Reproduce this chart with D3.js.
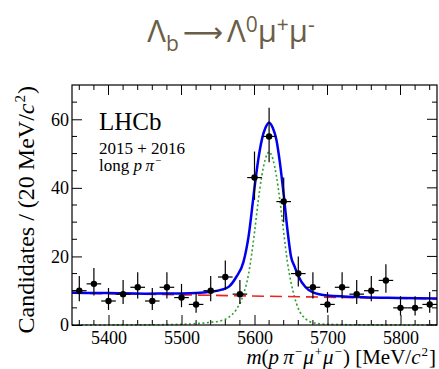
<!DOCTYPE html>
<html>
<head>
<meta charset="utf-8">
<script src="https://cdn.jsdelivr.net/npm/d3@7"></script>
<style>
  body { margin: 0; background: #fff; }
  svg text { font-family: "Liberation Serif", "Times New Roman", serif; }
</style>
</head>
<body>
<div id="chart"></div>
<script>
// binned data, 20 MeV bins
const binCentres = [5360, 5380, 5400, 5420, 5440, 5460, 5480, 5500, 5520, 5540, 5560, 5580, 5600,
                    5620, 5640, 5660, 5680, 5700, 5720, 5740, 5760, 5780, 5800, 5820, 5840];
const counts     = [10, 12, 7, 9, 11, 7, 11, 8, 6, 10, 14, 9, 43, 55, 36, 15, 11, 6, 11, 9, 10, 13, 5, 5, 6];
const errLow     = [6.9, 8.6, 4.4, 6.1, 7.7, 4.4, 7.7, 5.2, 3.6, 6.9, 10.3, 6.1, 36.5, 47.5, 30.0, 11.2,
                    7.7, 3.6, 7.7, 6.1, 6.9, 9.4, 2.8, 2.8, 3.6];
const errHigh    = [14.3, 16.6, 10.8, 13.1, 15.4, 10.8, 15.4, 12.0, 9.6, 14.3, 18.8, 13.1, 50.6, 63.4, 43.0, 20.0,
                    15.4, 9.6, 15.4, 13.1, 14.3, 17.7, 8.4, 8.4, 9.6];
const binHalf = 10;

// fit curves
const fitMass   = [5350, 5400, 5450, 5500, 5520, 5540, 5555, 5565, 5575, 5585, 5592, 5600, 5605, 5610, 5615,
                   5620, 5625, 5630, 5635, 5640, 5645, 5650, 5655, 5660, 5670, 5680, 5700, 5750, 5800, 5850];
const fitTotal  = [9.4, 9.3, 9.15, 9.2, 9.3, 9.7, 10.3, 11.2, 14.0, 18.5, 26, 40, 48, 54, 57.5,
                   59, 57.5, 54, 47, 38, 28, 20, 17, 14.3, 11, 9.5, 8.6, 8.1, 7.9, 7.7];
const fitSignal = [0, 0.02, 0.05, 0.2, 0.4, 0.8, 1.3, 2.3, 4.5, 9, 15, 27, 36, 43.5, 48.5,
                   50.5, 48.5, 43.5, 36, 27, 18.5, 12.5, 8, 4.8, 1.8, 0.7, 0.2, 0.05, 0.02, 0];
const bkgMass   = [5350, 5850];
const bkgValue  = [9.3, 7.6];

const xMajor = [5400, 5500, 5600, 5700, 5800];
const yMajor = [0, 20, 40, 60];

const width = 439, height = 369;
const margin = {top: 85, right: 2, bottom: 44, left: 72};

const svg = d3.select("#chart").append("svg")
    .attr("width", width)
    .attr("height", height);

const x = d3.scaleLinear().domain([5350, 5850]).range([margin.left, width - margin.right]);
const y = d3.scaleLinear().domain([0, 70]).range([height - margin.bottom, margin.top]);

// title
const title = svg.append("text")
    .attr("x", 231)
    .attr("y", 42)
    .attr("text-anchor", "middle")
    .style("font-family", "'Open Sans', sans-serif")
    .style("font-size", "31px")
    .attr("fill", "#6b5e48");
title.append("tspan").text("Λ");
title.append("tspan").attr("dy", 9).style("font-size", "21px").text("b");
title.append("tspan").attr("dy", -9).attr("dx", 4).style("font-family", "'DejaVu Sans', sans-serif").style("font-size", "28px").text("⟶");
title.append("tspan").attr("dx", 4).text("Λ");
title.append("tspan").attr("dy", -10).style("font-size", "21px").text("0");
title.append("tspan").attr("dy", 10).text("μ");
title.append("tspan").attr("dy", -10).style("font-size", "21px").text("+");
title.append("tspan").attr("dy", 10).text("μ");
title.append("tspan").attr("dy", -10).style("font-size", "21px").text("-");

// curves
const lineOf = (xs, ys) => d3.line()
    .x((d, i) => x(xs[i]))
    .y(d => y(d))
    .curve(d3.curveMonotoneX)(ys);

const plot = svg.append("g");
plot.append("path")
    .attr("d", lineOf(fitMass, fitSignal))
    .attr("fill", "none")
    .attr("stroke", "#2ca02c")
    .attr("stroke-width", 1.6)
    .attr("stroke-dasharray", "2,2.5");

plot.append("path")
    .attr("d", lineOf(bkgMass, bkgValue))
    .attr("fill", "none")
    .attr("stroke", "#ee2222")
    .attr("stroke-width", 1.6)
    .attr("stroke-dasharray", "12,6");

plot.append("path")
    .attr("d", lineOf(fitMass, fitTotal))
    .attr("fill", "none")
    .attr("stroke", "#0000ee")
    .attr("stroke-width", 2.5);

// data points
const pts = plot.selectAll(".pt")
    .data(counts)
    .enter().append("g")
    .attr("class", "pt");
pts.append("line")
    .attr("x1", (d, i) => x(binCentres[i] - binHalf))
    .attr("x2", (d, i) => x(binCentres[i] + binHalf))
    .attr("y1", d => y(d))
    .attr("y2", d => y(d))
    .attr("stroke", "#000")
    .attr("stroke-width", 1.2);
pts.append("line")
    .attr("x1", (d, i) => x(binCentres[i]))
    .attr("x2", (d, i) => x(binCentres[i]))
    .attr("y1", (d, i) => y(errLow[i]))
    .attr("y2", (d, i) => y(errHigh[i]))
    .attr("stroke", "#000")
    .attr("stroke-width", 1.2);
pts.append("circle")
    .attr("cx", (d, i) => x(binCentres[i]))
    .attr("cy", d => y(d))
    .attr("r", 3.2)
    .attr("fill", "#000");

// axes, ticks pointing inwards on all four sides
const xMinor = d3.range(5360, 5850, 20).filter(v => v % 100 !== 0);
const yMinor = d3.range(5, 70, 5).filter(v => v % 20 !== 0);
const plotB = height - margin.bottom, plotT = margin.top;
const plotL = margin.left, plotR = width - margin.right;

const xAxis = svg.append("g")
    .attr("transform", "translate(0," + plotB + ")")
    .call(d3.axisBottom(x).tickValues(xMajor).tickSizeInner(-10).tickSizeOuter(0).tickPadding(6).tickFormat(d3.format("d")));
xAxis.selectAll("text").style("font-family", "'Liberation Serif', serif").style("font-size", "18px").attr("fill", "#000");

const yAxis = svg.append("g")
    .attr("transform", "translate(" + plotL + ",0)")
    .call(d3.axisLeft(y).tickValues(yMajor).tickSizeInner(-10).tickSizeOuter(0).tickPadding(3));
yAxis.selectAll("text").style("font-family", "'Liberation Serif', serif").style("font-size", "18px").attr("fill", "#000");
svg.selectAll(".domain").remove();

const ticks = svg.append("g").attr("stroke", "#000").attr("stroke-width", 1);
ticks.selectAll(".xt").data(xMinor).enter().append("line")
    .attr("x1", d => x(d)).attr("x2", d => x(d)).attr("y1", plotB).attr("y2", plotB - 5);
ticks.selectAll(".xtt").data(xMinor).enter().append("line")
    .attr("x1", d => x(d)).attr("x2", d => x(d)).attr("y1", plotT).attr("y2", plotT + 5);
ticks.selectAll(".xtm").data(xMajor).enter().append("line")
    .attr("x1", d => x(d)).attr("x2", d => x(d)).attr("y1", plotT).attr("y2", plotT + 10);
ticks.selectAll(".yt").data(yMinor).enter().append("line")
    .attr("x1", plotL).attr("x2", plotL + 5).attr("y1", d => y(d)).attr("y2", d => y(d));
ticks.selectAll(".ytr").data(yMinor).enter().append("line")
    .attr("x1", plotR).attr("x2", plotR - 5).attr("y1", d => y(d)).attr("y2", d => y(d));
ticks.selectAll(".ytm").data(yMajor).enter().append("line")
    .attr("x1", plotR).attr("x2", plotR - 10).attr("y1", d => y(d)).attr("y2", d => y(d));

svg.append("rect")
    .attr("x", plotL).attr("y", plotT)
    .attr("width", plotR - plotL).attr("height", plotB - plotT)
    .attr("fill", "none").attr("stroke", "#000").attr("stroke-width", 1.2);

// axis titles
const xTitle = svg.append("text")
    .attr("x", plotR - 1)
    .attr("y", 364)
    .attr("text-anchor", "end")
    .style("font-size", "21px");
xTitle.append("tspan").style("font-style", "italic").text("m");
xTitle.append("tspan").text("(");
xTitle.append("tspan").style("font-style", "italic").text("p\u2009π");
xTitle.append("tspan").attr("dy", -8).attr("dx", 1).style("font-size", "13px").text("−");
xTitle.append("tspan").attr("dy", 8).attr("dx", 1).style("font-style", "italic").text("μ");
xTitle.append("tspan").attr("dy", -8).attr("dx", 1).style("font-size", "13px").text("+");
xTitle.append("tspan").attr("dy", 8).attr("dx", 1).style("font-style", "italic").text("μ");
xTitle.append("tspan").attr("dy", -8).attr("dx", 1).style("font-size", "13px").text("−");
xTitle.append("tspan").attr("dy", 8).attr("dx", 1).text(") [MeV/");
xTitle.append("tspan").style("font-style", "italic").text("c");
xTitle.append("tspan").attr("dy", -8).attr("dx", 1).style("font-size", "13px").text("2");
xTitle.append("tspan").attr("dy", 8).attr("dx", 1).text("]");

const yTitle = svg.append("text")
    .attr("transform", "translate(34," + (plotT + 1) + ") rotate(-90)")
    .attr("text-anchor", "end")
    .style("font-size", "24px");
yTitle.append("tspan").text("Candidates / (20 MeV/");
yTitle.append("tspan").style("font-style", "italic").text("c");
yTitle.append("tspan").attr("dy", -9).attr("dx", 1).style("font-size", "15px").text("2");
yTitle.append("tspan").attr("dy", 9).attr("dx", 1).text(")");

// labels inside the frame
svg.append("text").attr("x", 99).attr("y", 130).style("font-size", "25px").text("LHCb");
svg.append("text").attr("x", 99).attr("y", 154).style("font-size", "17px").text("2015 + 2016");
const lp = svg.append("text").attr("x", 99).attr("y", 171).style("font-size", "17px");
lp.append("tspan").text("long ");
lp.append("tspan").style("font-style", "italic").text("p\u2009π");
lp.append("tspan").attr("dy", -7).attr("dx", 1).style("font-size", "11px").text("−");
</script>
</body>
</html>
